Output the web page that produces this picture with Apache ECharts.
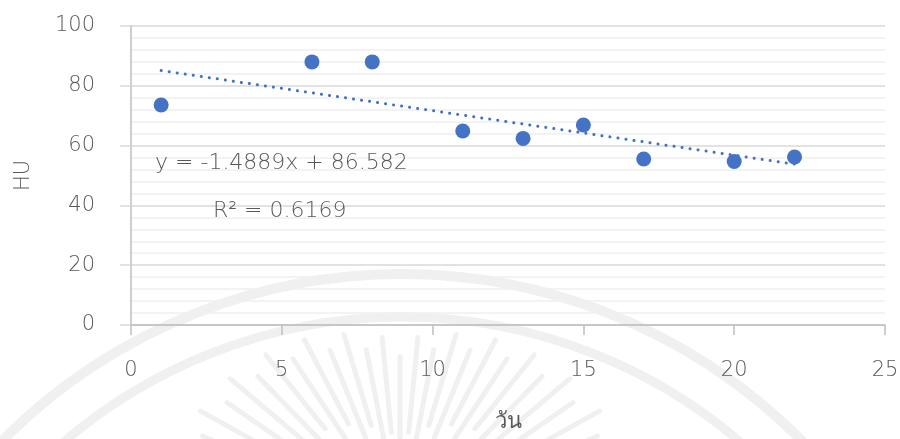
<!DOCTYPE html>
<html>
<head>
<meta charset="utf-8">
<script src="https://cdn.jsdelivr.net/npm/echarts@6/dist/echarts.min.js"></script>
<style>
  html, body { margin: 0; padding: 0; background: #fff; }
  #chart { width: 900px; height: 439px; }
</style>
</head>
<body>
<div id="chart"></div>
<script>
// data
const days = [1, 6, 8, 11, 13, 15, 17, 20, 22]
const hu = [73.6, 88.0, 88.0, 64.9, 62.4, 66.9, 55.5, 54.7, 56.2]
// linear trendline (y = -1.4889x + 86.582) at its two ends
const trendX = [1, 22]
const trendY = [85.1, 53.8]
const equationText = 'y = -1.4889x + 86.582'
const r2Text = 'R² = 0.6169'

const font = '"DejaVu Sans", "Noto Sans", sans-serif'
const textColor = '#595959'
const blue = '#4472C4'

// faint seal watermark behind the chart
const wm = '#f0f0f0'
const seal = [
  { type: 'arc', z: -10, shape: { cx: 402, cy: 837, r: 563, startAngle: Math.PI, endAngle: 2 * Math.PI }, style: { stroke: wm, lineWidth: 10, fill: null } },
  { type: 'arc', z: -10, shape: { cx: 402, cy: 837, r: 520, startAngle: Math.PI, endAngle: 2 * Math.PI }, style: { stroke: wm, lineWidth: 9, fill: null } }
]
for (let i = 0; i <= 26; i++) {
  const a = Math.PI * (1.1 + i * 0.8 / 26)
  const r1 = 180 + 55 * Math.abs(Math.cos(a)) - (i % 2 ? 15 : 0)
  const r0 = r1 - 95
  seal.push({
    type: 'line', z: -10,
    shape: { x1: 400 + r0 * Math.cos(a), y1: 522 + r0 * Math.sin(a), x2: 400 + r1 * Math.cos(a), y2: 522 + r1 * Math.sin(a) },
    style: { stroke: wm, lineWidth: 5, lineCap: 'round' }
  })
}

const chart = echarts.init(document.getElementById('chart'))
chart.setOption({
  backgroundColor: '#fff',
  animation: false,
  textStyle: { fontFamily: font, fontWeight: 200 },
  grid: { left: 131, right: 15, top: 26, bottom: 114, containLabel: false, outerBoundsMode: 'none' },
  xAxis: {
    type: 'value',
    min: 0,
    max: 25,
    interval: 5,
    name: 'วัน',
    nameLocation: 'middle',
    nameGap: 86,
    nameTextStyle: { fontSize: 22, color: textColor, fontFamily: font, fontWeight: 200 },
    axisLine: { show: true, lineStyle: { color: '#bfbfbf', width: 1.5 } },
    axisTick: { show: true, length: 10, lineStyle: { color: '#bfbfbf', width: 1.5 } },
    axisLabel: { fontSize: 21, color: textColor, margin: 35, fontWeight: 200 },
    splitLine: { show: false }
  },
  yAxis: {
    type: 'value',
    min: 0,
    max: 100,
    interval: 20,
    name: 'HU',
    nameLocation: 'middle',
    nameGap: 97,
    nameTextStyle: { fontSize: 21, color: textColor, fontFamily: font, fontWeight: 200 },
    axisLine: { show: true, lineStyle: { color: '#bfbfbf', width: 1.5 } },
    axisTick: { show: true, length: 11, lineStyle: { color: '#d9d9d9', width: 1.5 } },
    axisLabel: { fontSize: 21, color: textColor, margin: 36, fontWeight: 200 },
    splitLine: { show: true, lineStyle: { color: '#d9d9d9', width: 1.5 } },
    minorTick: { show: false, splitNumber: 5 },
    minorSplitLine: { show: true, lineStyle: { color: '#f0f0f0', width: 1.5 } }
  },
  series: [
    {
      name: 'HU',
      type: 'scatter',
      symbolSize: 15,
      itemStyle: { color: blue, opacity: 1 },
      data: days.map((d, i) => [d, hu[i]]),
      z: 3
    },
    {
      name: 'trend',
      type: 'line',
      symbol: 'none',
      lineStyle: { color: blue, width: 3, type: [0.1, 8], cap: 'round' },
      data: trendX.map((d, i) => [d, trendY[i]]),
      z: 2
    }
  ],
  graphic: seal.concat([
    {
      type: 'text', left: 155, top: 152, z: 5,
      style: { text: equationText, fontSize: 22, fill: textColor, fontFamily: font, fontWeight: 200 }
    },
    {
      type: 'text', left: 213, top: 200, z: 5,
      style: { text: r2Text, fontSize: 22, fill: textColor, fontFamily: font, fontWeight: 200 }
    }
  ])
})
</script>
</body>
</html>
